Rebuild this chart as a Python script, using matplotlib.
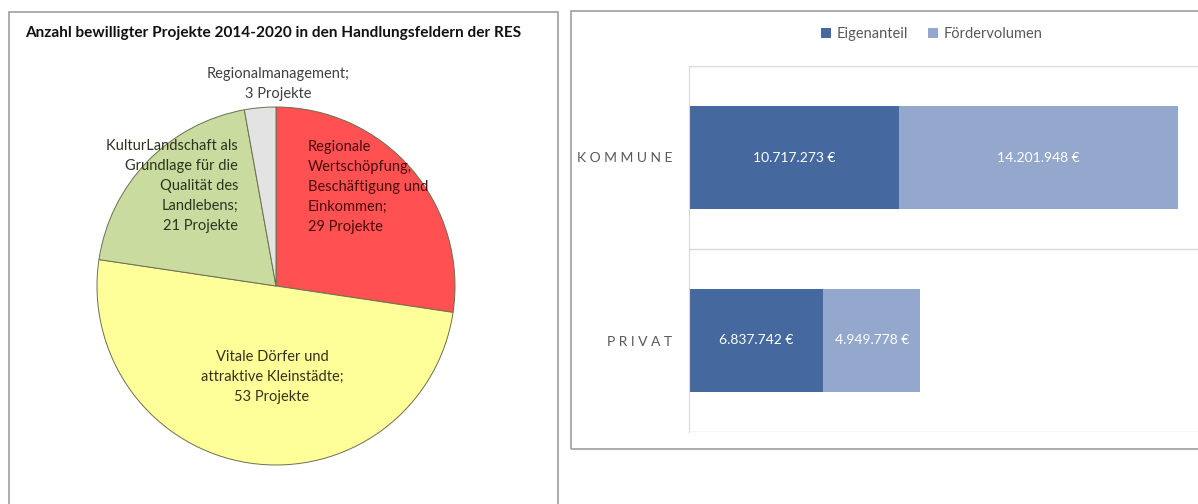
import matplotlib
matplotlib.use("Agg")
import matplotlib.pyplot as plt
from matplotlib.patches import Rectangle, Patch

# ---------------- data ----------------
pie_labels = ["Regionale\nWertschöpfung,\nBeschäftigung und\nEinkommen;\n29 Projekte",
              "Vitale Dörfer und\nattraktive Kleinstädte;\n53 Projekte",
              "KulturLandschaft als\nGrundlage für die\nQualität des\nLandlebens;\n21 Projekte",
              "Regionalmanagement;\n3 Projekte"]
pie_values = [29, 53, 21, 3]
pie_colors = ["#FF5151", "#FFFF99", "#C9DB9F", "#E3E3E3"]
pie_text_colors = ["#4A0B0B", "#33331A", "#2E3320", "#404040"]
pie_title = "Anzahl bewilligter Projekte 2014-2020 in den Handlungsfeldern der RES"

bar_categories = ["KOMMUNE", "PRIVAT"]
eigenanteil = [10717273, 6837742]
foerdervolumen = [14201948, 4949778]
series_names = ["Eigenanteil", "Fördervolumen"]
bar_colors = ["#45699E", "#93A8CC"]

# ---------------- figure ----------------
W, H = 1198, 504
plt.rcParams['font.family'] = ['Lato', 'DejaVu Sans']
fig = plt.figure(figsize=(W / 100, H / 100), dpi=100)
fig.patch.set_facecolor("white")

def fx(x):
    return x / W

def fy(y):
    return 1 - y / H

# panel frames
fig.add_artist(Rectangle((fx(9), fy(520)), fx(558) - fx(9), fy(12) - fy(520),
                         transform=fig.transFigure, fill=False,
                         edgecolor="#A6A6A6", linewidth=1.3, clip_on=False))
fig.add_artist(Rectangle((fx(571), fy(449)), fx(1220) - fx(571), fy(11) - fy(449),
                         transform=fig.transFigure, fill=False,
                         edgecolor="#A6A6A6", linewidth=1.3, clip_on=False))

# ---------------- pie ----------------
cx, cy, r = 276, 286, 179
axp = fig.add_axes([fx(cx - r), fy(cy + r), fx(2 * r), (2 * r) / H])
wedges, _ = axp.pie(pie_values, colors=pie_colors, startangle=90, counterclock=False,
                    wedgeprops=dict(edgecolor="#6E6E50", linewidth=0.7))
axp.set_xlim(-1, 1)
axp.set_ylim(-1, 1)
axp.set_aspect("equal")
axp.axis("off")

fig.text(fx(25), fy(33), pie_title, fontsize=11.05, fontweight="bold",
         color="#111111", ha="left", va="center")

label_pos = [(308, 187, "left"), (272, 377, "center"), (238, 186, "right"), (278, 84, "center")]
for lab, col, (x, y, ha) in zip(pie_labels, pie_text_colors, label_pos):
    fig.text(fx(x), fy(y), lab, fontsize=10.5, color=col, ha=ha, va="center",
             multialignment=ha, linespacing=1.55)

# ---------------- bars ----------------
x0, x1, ytop, ybot = 689, 1198, 66, 432
axb = fig.add_axes([fx(x0), fy(ybot), fx(x1) - fx(x0), (ybot - ytop) / H])
ypos = list(range(len(bar_categories)))
b1 = axb.barh(ypos, eigenanteil, height=0.56, color=bar_colors[0], label=series_names[0])
b2 = axb.barh(ypos, foerdervolumen, left=eigenanteil, height=0.56,
              color=bar_colors[1], label=series_names[1])

def euro(v):
    return f"{v:,}".replace(",", ".") + " €"

for bars, vals, lefts in [(b1, eigenanteil, [0] * len(eigenanteil)), (b2, foerdervolumen, eigenanteil)]:
    for rect, v, l in zip(bars, vals, lefts):
        axb.text(l + v / 2, rect.get_y() + rect.get_height() / 2, euro(v),
                 ha="center", va="center", color="white", fontsize=10)

totals = [a + b for a, b in zip(eigenanteil, foerdervolumen)]
xmax = max(totals) * (x1 - x0) / (1178 - x0)
axb.set_xlim(0, xmax)
axb.set_ylim(len(bar_categories) - 0.5, -0.5)
axb.set_yticks(ypos)
axb.set_yticklabels([" ".join(c) for c in bar_categories], fontsize=10, color="#595959")
axb.set_yticks([i - 0.5 for i in range(len(bar_categories) + 1)], minor=True)
axb.tick_params(axis="y", which="both", length=0, pad=12)
axb.grid(True, axis="y", which="minor", color="#D9D9D9", linewidth=1)
axb.set_xticks([])
for s in ["top", "right", "bottom"]:
    axb.spines[s].set_visible(False)
axb.spines["left"].set_color("#D9D9D9")
axb.set_axisbelow(True)

handles = [Patch(facecolor=c, edgecolor="none") for c in bar_colors]
fig.legend(handles, series_names, loc="center", bbox_to_anchor=(fx(932), fy(34)), ncol=2,
           frameon=False, fontsize=10.5, labelcolor="#595959", handlelength=0.65,
           handleheight=0.65, handletextpad=0.4, columnspacing=1.4)

fig.savefig("out.png", dpi=100, facecolor="white")
